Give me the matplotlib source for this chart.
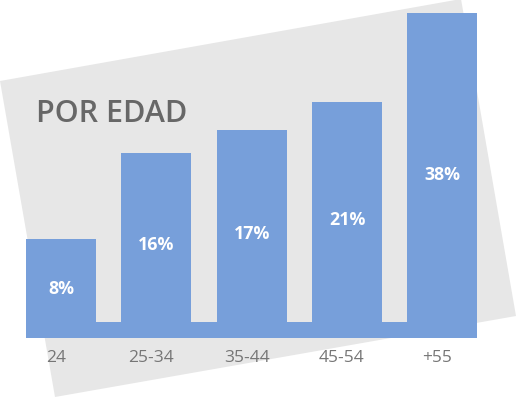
import matplotlib.pyplot as plt
from matplotlib.patches import Polygon
from matplotlib.transforms import ScaledTranslation

# data
categories = ['24', '25-34', '35-44', '45-54', '+55']
values = [8, 16, 17, 21, 38]            # printed percentages
bar_heights = [83, 169, 192, 220, 309]  # drawn heights (not proportional in the original)
base_depth = 16                         # band under all bars

bar_color = '#779FDA'
bg_gray = '#E7E7E7'

plt.rcParams['font.family'] = ['Open Sans', 'DejaVu Sans']

W, H = 517, 398
fig = plt.figure(figsize=(W / 100, H / 100), dpi=100)

# tilted grey card behind the chart (pixel corners)
card = [(0, 81), (461, -1), (516, 316), (55, 397)]
poly = Polygon([(x / W, 1 - y / H) for x, y in card], closed=True,
               facecolor=bg_gray, edgecolor='none',
               transform=fig.transFigure, zorder=-1)
fig.add_artist(poly)

ax = fig.add_axes([26 / W, 60 / H, 451.3 / W, 325 / H])
ax.patch.set_visible(False)

x = list(range(len(categories)))
w = 0.734
ax.bar(x, bar_heights, width=w, color=bar_color, linewidth=0)
ax.axhspan(-base_depth, 0, color=bar_color, linewidth=0)
ax.set_xlim(-w / 2, len(categories) - 1 + w / 2)
ax.set_ylim(-base_depth, max(bar_heights))

for i, (v, h) in enumerate(zip(values, bar_heights)):
    ax.text(i, (h - base_depth) / 2, '%d%%' % v, ha='center', va='center',
            color='white', fontsize=12.8, fontweight='bold')

ax.set_xticks(x)
ax.set_xticklabels(categories, fontsize=12.5, color='#767676')
ax.tick_params(axis='x', length=0, pad=8.5)
ax.set_yticks([])
for s in ax.spines.values():
    s.set_visible(False)
for lbl in ax.get_xticklabels():
    lbl.set_transform(lbl.get_transform() + ScaledTranslation(-5 / 100, 0, fig.dpi_scale_trans))

fig.text(36 / W, 1 - 122 / H, 'POR EDAD', fontsize=22, color='#676767',
         fontweight='semibold', ha='left', va='baseline')

fig.savefig('out.png', dpi=100)
